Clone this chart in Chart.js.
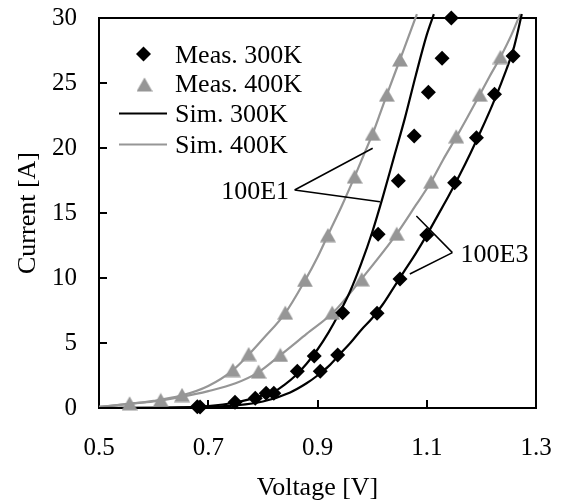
<!DOCTYPE html>
<html><head><meta charset="utf-8">
<script src="https://cdn.jsdelivr.net/npm/chart.js@4.4.1/dist/chart.umd.min.js"></script>
<style>html,body{margin:0;padding:0;background:#fff;}</style>
</head><body>
<canvas id="c" width="571" height="502" style="width:571px;height:502px;display:block"></canvas>
<script>
// ---- tick labels ----
const xTicks = [0.5, 0.7, 0.9, 1.1, 1.3];
const yTicks = [0, 5, 10, 15, 20, 25, 30];
const xTitle = 'Voltage [V]';
const yTitle = 'Current [A]';
const seriesNames = ['Meas. 300K', 'Meas. 400K', 'Sim. 300K', 'Sim. 400K'];

// ---- measured 300K (diamonds): device 100E1 then 100E3 ----
const meas300V = [0.680, 0.749, 0.786, 0.820, 0.863, 0.894, 0.946, 1.011, 1.048, 1.077, 1.103, 1.128, 1.145,
                  0.685, 0.806, 0.905, 0.937, 1.009, 1.051, 1.100, 1.151, 1.191, 1.224, 1.258];
const meas300I = [0.10, 0.45, 0.75, 1.13, 2.82, 4.00, 7.33, 13.36, 17.48, 20.92, 24.28, 26.90, 30.00,
                  0.08, 1.13, 2.82, 4.08, 7.28, 9.92, 13.31, 17.33, 20.79, 24.13, 27.08];

// ---- measured 400K (triangles) ----
const meas400V = [0.556, 0.613, 0.652, 0.745, 0.774, 0.841, 0.877, 0.919, 0.968, 1.001, 1.027, 1.051,
                  0.792, 0.832, 0.927, 0.981, 1.045, 1.108, 1.154, 1.197, 1.235];
const meas400I = [0.36, 0.62, 1.00, 2.92, 4.15, 7.33, 9.85, 13.30, 17.80, 21.10, 24.10, 26.80,
                  2.80, 4.08, 7.33, 9.90, 13.40, 17.40, 20.90, 24.10, 27.00];

// ---- simulated 300K ----
const sim300E1V = [0.50, 0.60, 0.65, 0.70, 0.75, 0.78, 0.80, 0.82, 0.84, 0.86, 0.88, 0.90, 0.92, 0.94, 0.96, 0.98, 1.00, 1.02, 1.04, 1.06, 1.08, 1.10, 1.113];
const sim300E1I = [0.00, 0.02, 0.05, 0.15, 0.42, 0.72, 0.98, 1.25, 1.80, 2.50, 3.40, 4.50, 5.80, 7.30, 9.00, 11.1, 13.5, 16.3, 19.3, 22.3, 25.6, 28.7, 30.3];
const sim300E3V = [0.50, 0.60, 0.70, 0.75, 0.80, 0.85, 0.88, 0.90, 0.92, 0.94, 0.96, 0.98, 1.00, 1.02, 1.04, 1.06, 1.08, 1.10, 1.12, 1.14, 1.16, 1.18, 1.20, 1.22, 1.24, 1.26, 1.274];
const sim300E3I = [0.00, 0.01, 0.08, 0.20, 0.50, 1.20, 1.90, 2.50, 3.20, 4.10, 5.00, 6.00, 6.90, 8.00, 9.30, 10.6, 11.9, 13.3, 14.8, 16.3, 17.9, 19.6, 21.4, 23.3, 25.4, 27.8, 30.3];

// ---- simulated 400K ----
const sim400E1V = [0.50, 0.55, 0.60, 0.65, 0.70, 0.745, 0.774, 0.80, 0.841, 0.877, 0.90, 0.919, 0.945, 0.968, 0.985, 1.001, 1.015, 1.027, 1.051, 1.067, 1.082];
const sim400E1I = [0.08, 0.30, 0.55, 0.95, 1.70, 2.90, 4.10, 5.30, 7.30, 9.80, 11.6, 13.3, 15.6, 17.8, 19.5, 21.1, 22.7, 24.1, 26.8, 28.6, 30.3];
const sim400E3V = [0.50, 0.55, 0.60, 0.65, 0.70, 0.75, 0.79, 0.83, 0.88, 0.93, 0.98, 1.045, 1.08, 1.108, 1.13, 1.155, 1.175, 1.197, 1.215, 1.235, 1.255, 1.271];
const sim400E3I = [0.08, 0.30, 0.50, 0.85, 1.30, 1.90, 2.70, 4.00, 5.70, 7.40, 9.90, 13.4, 15.6, 17.4, 19.1, 20.9, 22.4, 24.1, 25.5, 27.0, 28.7, 30.3];

// ---- annotations (data coordinates) ----
const annE1Text = '100E1', annE1At = [0.848, 16.05], annE1From = [0.858, 16.77], annE1To = [[1.001, 19.98], [1.0143, 15.87]];
const annE3Text = '100E3', annE3At = [1.162, 11.25], annE3From = [1.147, 11.95], annE3To = [[1.081, 14.77], [1.069, 10.31]];

const pts = (xs, ys) => xs.map((x, i) => ({x: x, y: ys[i]}));
const FONT = '"Liberation Serif", "Times New Roman", serif';
const GRAY = '#969696';

// triangle marker (centred on its bounding box)
const tri = document.createElement('canvas');
tri.width = 16; tri.height = 15;
(function () {
  const t = tri.getContext('2d');
  t.fillStyle = GRAY;
  t.beginPath(); t.moveTo(8, 0.5); t.lineTo(16, 14.5); t.lineTo(0, 14.5); t.closePath(); t.fill();
})();

const lineDs = (label, xs, ys, color) => ({
  label: label, data: pts(xs, ys), showLine: true, borderColor: color, borderWidth: 2.2,
  pointRadius: 0, cubicInterpolationMode: 'monotone', clip: false, fill: false
});

const boxPlugin = {
  id: 'box',
  beforeDatasetsDraw(chart) {
    const {ctx, chartArea: a, scales} = chart;
    ctx.save();
    ctx.strokeStyle = '#000';
    ctx.lineWidth = 2;
    ctx.strokeRect(a.left, a.top, a.right - a.left, a.bottom - a.top);
    // inside ticks
    ctx.beginPath();
    xTicks.forEach(v => { const p = Math.round(scales.x.getPixelForValue(v)); ctx.moveTo(p, a.bottom); ctx.lineTo(p, a.bottom - 8); });
    yTicks.forEach(v => { const p = Math.round(scales.y.getPixelForValue(v)); ctx.moveTo(a.left, p); ctx.lineTo(a.left + 8, p); });
    ctx.stroke();
    ctx.restore();
  },
  afterDatasetsDraw(chart) {
    const {ctx, scales} = chart;
    const X = v => scales.x.getPixelForValue(v), Y = v => scales.y.getPixelForValue(v);
    ctx.save();
    ctx.font = '26px ' + FONT;
    ctx.fillStyle = '#000';
    ctx.textBaseline = 'alphabetic';
    // legend
    const lx = 175, rows = [62.7, 91.7, 121.7, 152.7];
    seriesNames.forEach((s, i) => { ctx.textAlign = 'left'; ctx.fillText(s, lx, rows[i]); });
    // diamond
    ctx.beginPath();
    const dx = 143.5, dy = 54, r = 7.5;
    ctx.moveTo(dx - r, dy); ctx.lineTo(dx, dy - r); ctx.lineTo(dx + r, dy); ctx.lineTo(dx, dy + r); ctx.closePath();
    ctx.fill();
    ctx.drawImage(tri, 144.5 - 8, 84.5 - 7.5);
    ctx.lineWidth = 2.2;
    ctx.strokeStyle = '#000';
    ctx.beginPath(); ctx.moveTo(119, 113.5); ctx.lineTo(167, 113.5); ctx.stroke();
    ctx.strokeStyle = GRAY;
    ctx.beginPath(); ctx.moveTo(119, 144.5); ctx.lineTo(167, 144.5); ctx.stroke();
    // annotations
    ctx.strokeStyle = '#000';
    ctx.lineWidth = 1.5;
    ctx.textAlign = 'right';
    ctx.fillText(annE1Text, X(annE1At[0]), Y(annE1At[1]));
    ctx.beginPath();
    annE1To.forEach(p => { ctx.moveTo(X(annE1From[0]), Y(annE1From[1])); ctx.lineTo(X(p[0]), Y(p[1])); });
    ctx.stroke();
    ctx.textAlign = 'left';
    ctx.fillText(annE3Text, X(annE3At[0]), Y(annE3At[1]));
    ctx.beginPath();
    annE3To.forEach(p => { ctx.moveTo(X(annE3From[0]), Y(annE3From[1])); ctx.lineTo(X(p[0]), Y(p[1])); });
    ctx.stroke();
    ctx.restore();
  }
};

new Chart(document.getElementById('c'), {
  type: 'scatter',
  data: {
    datasets: [
      {label: seriesNames[0], data: pts(meas300V, meas300I), pointStyle: 'rectRot', pointRadius: 7.5,
       backgroundColor: '#000', borderColor: '#000', borderWidth: 0, showLine: false, clip: false},
      {label: seriesNames[1], data: pts(meas400V, meas400I), pointStyle: tri, pointRadius: 8,
       backgroundColor: GRAY, borderColor: GRAY, showLine: false, clip: false},
      lineDs(seriesNames[2], sim300E1V, sim300E1I, '#000'),
      lineDs(seriesNames[2], sim300E3V, sim300E3I, '#000'),
      lineDs(seriesNames[3], sim400E1V, sim400E1I, GRAY),
      lineDs(seriesNames[3], sim400E3V, sim400E3I, GRAY)
    ]
  },
  options: {
    responsive: false,
    animation: false,
    events: [],
    layout: {padding: {top: 18, right: 35, left: 0, bottom: 0}},
    plugins: {legend: {display: false}, tooltip: {enabled: false}},
    scales: {
      x: {
        type: 'linear', min: 0.5, max: 1.3,
        afterBuildTicks: s => { s.ticks = xTicks.map(v => ({value: v})); },
        afterFit: s => { s.height = 94; s.paddingLeft = 0; s.paddingRight = 0; s.paddingTop = 0; s.paddingBottom = 0; },
        grid: {display: false, drawTicks: false},
        border: {display: false},
        ticks: {color: '#000', font: {family: FONT, size: 25}, padding: 25, maxRotation: 0,
                callback: v => v.toFixed(1)},
        title: {display: true, text: xTitle, color: '#000', font: {family: FONT, size: 26, lineHeight: 1},
                padding: {top: 0, bottom: 1}}
      },
      y: {
        type: 'linear', min: 0, max: 30,
        afterBuildTicks: s => { s.ticks = yTicks.map(v => ({value: v})); },
        afterFit: s => { s.width = 99; s.paddingLeft = 0; s.paddingRight = 0; s.paddingTop = 0; s.paddingBottom = 0; },
        grid: {display: false, drawTicks: false},
        border: {display: false},
        ticks: {color: '#000', font: {family: FONT, size: 25}, padding: 22},
        title: {display: true, text: yTitle, color: '#000', font: {family: FONT, size: 26, lineHeight: 1},
                padding: {top: 15, bottom: 0}}
      }
    }
  },
  plugins: [boxPlugin]
});
</script>
</body></html>
